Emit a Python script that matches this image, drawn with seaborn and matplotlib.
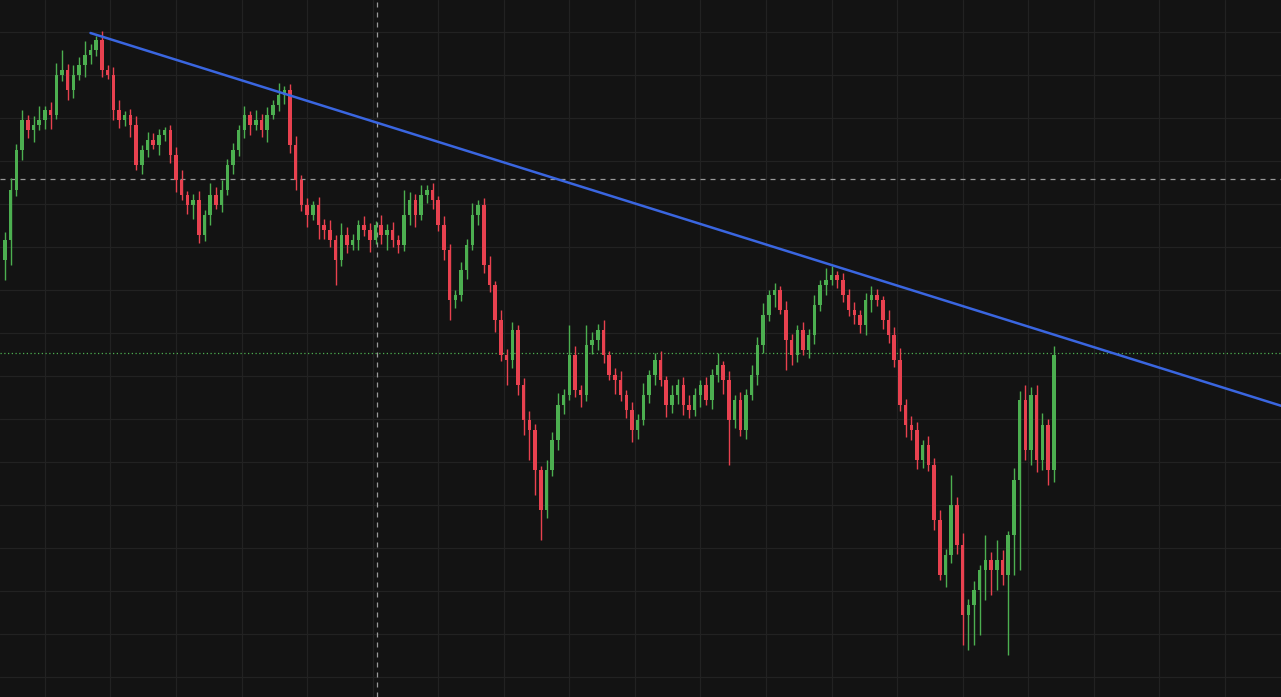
import numpy as np
import matplotlib
matplotlib.use("Agg")
import matplotlib.pyplot as plt
import seaborn as sns

# closing levels (screen-level units, larger = lower price)
closes = [240,190,150,120,130,125,120,110,115,75,
          70,90,75,65,55,50,40,70,75,110,
          120,115,125,165,150,140,145,135,130,155,
          180,195,205,200,235,215,195,205,190,165,
          150,130,115,125,120,130,115,105,95,90,
          145,180,205,215,205,225,230,240,260,235,
          245,240,225,230,240,225,235,230,240,245,
          215,200,215,195,190,200,225,250,300,295,
          270,245,215,205,265,285,320,355,360,330,
          385,420,430,470,510,470,440,405,395,355,
          390,395,345,340,330,355,375,380,395,410,
          430,420,395,375,360,380,405,395,385,405,
          410,395,385,400,375,365,380,420,400,430,
          395,375,345,315,295,290,310,340,355,330,
          350,335,305,285,280,275,280,295,310,315,
          325,300,295,300,320,335,360,405,425,430,
          460,445,465,520,575,555,505,545,615,605,
          590,570,560,570,560,575,535,480,400,450,
          395,460,425,470,355]
first_open = 260
wick_up = [8,12,6,10,5,9,14,4,8,12, 20,6,10,8,14,6,4,9,5,8,
           10,4,6,9,5,8,7,6,3,5, 8,10,4,6,9,5,12,8,10,6,
           7,5,9,4,10,6,8,5,12,4, 6,9,5,7,4,8,6,10,5,12,
           8,6,5,9,7,4,10,6,8,5, 25,8,6,10,5,7,4,9,6,5,
           8,6,12,5,7,9,4,10,6,8, 5,7,9,6,4,10,8,12,6,30,
           9,5,20,8,6,10,4,7,9,5, 8,6,12,5,7,9,4,10,6,8,
           10,7,5,8,6,12,4,9,5,8, 6,10,8,12,5,7,4,9,6,5,
           8,6,10,5,12,9,4,7,6,8, 5,7,9,6,4,10,8,12,6,9,
           8,5,9,7,10,6,30,8,12,6, 9,5,25,8,20,10,4,12,9,15,
           8,10,12,6,9,14]
wick_dn = [20,25,6,10,8,12,5,9,14,4, 6,10,8,5,12,9,6,7,4,10,
           8,6,12,5,9,7,4,10,6,8, 12,5,9,14,8,6,10,4,7,5,
           9,6,8,10,5,7,12,4,6,9, 8,10,6,12,5,14,9,7,25,6,
           8,5,10,6,12,4,9,15,7,8, 6,10,12,5,8,9,6,10,20,8,
           6,9,5,10,8,7,12,6,25,8, 10,15,30,25,30,8,6,10,9,5,
           7,12,6,9,10,8,5,14,6,8, 12,9,5,8,10,6,12,8,9,10,
           8,6,12,5,9,7,14,45,8,6, 9,5,10,8,6,12,4,30,10,7,
           5,8,9,6,10,5,8,7,6,9, 8,10,12,6,9,8,7,6,12,10,
           9,8,6,10,5,12,8,9,30,35, 40,45,30,25,20,10,80,40,90,10,
           15,12,10,15,12,6]
hline_dash = 179
hline_dot = 353
vline_dash = 65.3
trend_x = [15, 224]
trend_y = [33, 406]

sns.set_style("dark")
fig = plt.figure(figsize=(12.81, 6.97), dpi=100)
fig.patch.set_facecolor("#131313")
ax = fig.add_axes([0, 0, 1, 1])
ax.set_facecolor("#131313")

n = len(closes)
idx = np.arange(n)
opens = [first_open] + closes[:-1]
up = [c < o for o, c in zip(opens, closes)]
green, red = "#4caf50", "#e8414f"
cols = [green if u else red for u in up]
tops = [min(o, c) - w for o, c, w in zip(opens, closes, wick_up[:n])]
bots = [max(o, c) + w for o, c, w in zip(opens, closes, wick_dn[:n])]

for gx in np.arange(7.0, 230, 11.5):
    ax.axvline(gx, color="#222222", lw=0.9, zorder=0)
for gy in np.arange(32, 700, 43):
    ax.axhline(gy, color="#222222", lw=0.9, zorder=0)

ax.vlines(idx, tops, bots, colors=cols, lw=1.0, zorder=2)
heights = [max(abs(c - o), 1.5) for o, c in zip(opens, closes)]
bottoms = [min(o, c) for o, c in zip(opens, closes)]
ax.bar(idx, heights, bottom=bottoms, width=0.6, color=cols, edgecolor="none", linewidth=0, zorder=3)

ax.axhline(hline_dash, color="#9a9a9a", lw=0.9, ls=(0, (4, 4)), zorder=1)
ax.axhline(hline_dot, color="#4caf50", lw=0.9, ls=(0, (1, 2)), zorder=1)
ax.axvline(vline_dash, color="#9a9a9a", lw=0.9, ls=(0, (4, 4)), zorder=1)
sns.lineplot(x=trend_x, y=trend_y, ax=ax, color="#3a66e0", lw=1.8, zorder=4)

ax.set_xlim(-5 / 5.7, (1281 - 5) / 5.7)
ax.set_ylim(697, 0)
ax.set_xticks([]); ax.set_yticks([])
for s in ax.spines.values():
    s.set_visible(False)
fig.savefig("out.png", dpi=100, facecolor=fig.get_facecolor())
